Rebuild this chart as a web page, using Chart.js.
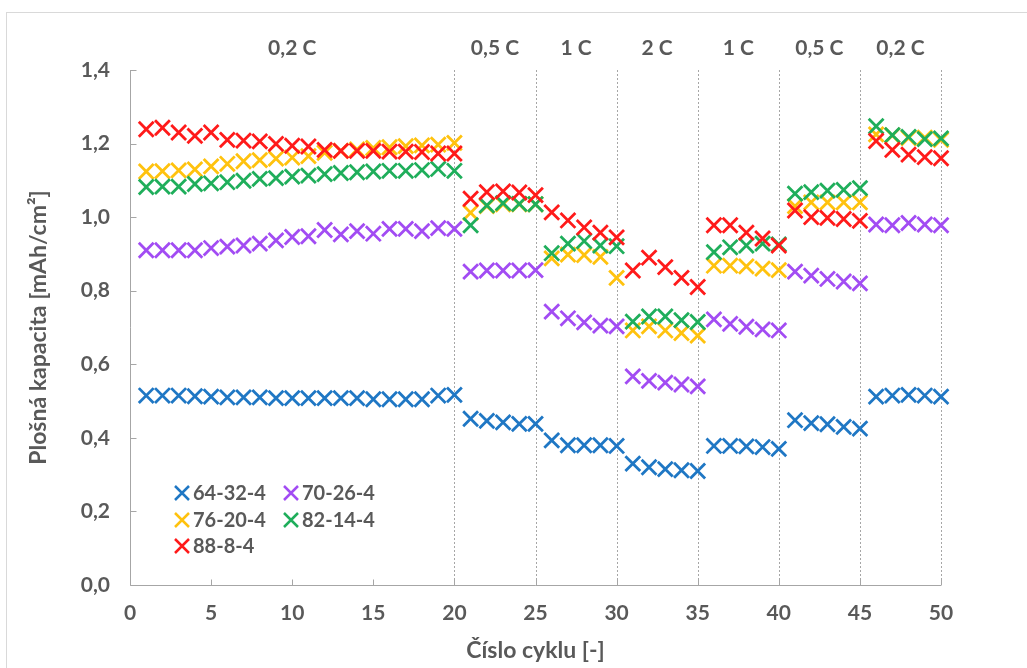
<!DOCTYPE html>
<html><head><meta charset="utf-8">
<script src="https://cdn.jsdelivr.net/npm/chart.js@4.4.0/dist/chart.umd.min.js"></script>
<style>
html,body{margin:0;padding:0;background:#fff;}
#wrap{position:relative;width:1027px;height:668px;overflow:hidden;background:#fff;}
#frame{position:absolute;left:6px;top:12px;width:1030px;height:680px;border:1px solid #d9d9d9;box-sizing:border-box;}
#c{position:absolute;left:0;top:0;}
</style></head>
<body><div id="wrap"><div id="frame"></div><canvas id="c" width="1027" height="668"></canvas></div>
<script>
// ---- data ----
const cycles = [1,2,3,4,5,6,7,8,9,10,11,12,13,14,15,16,17,18,19,20,21,22,23,24,25,26,27,28,29,30,31,32,33,34,35,36,37,38,39,40,41,42,43,44,45,46,47,48,49,50];
const seriesNames = ['64-32-4','70-26-4','76-20-4','82-14-4','88-8-4'];
const s64 = [0.515,0.515,0.515,0.513,0.512,0.510,0.510,0.510,0.508,0.508,0.508,0.508,0.508,0.508,0.505,0.505,0.505,0.505,0.515,0.517,
             0.452,0.446,0.442,0.438,0.438, 0.393,0.380,0.380,0.380,0.378, 0.330,0.320,0.315,0.312,0.310,
             0.378,0.378,0.377,0.375,0.370, 0.448,0.440,0.437,0.430,0.425, 0.512,0.515,0.517,0.515,0.512];
const s70 = [0.910,0.910,0.910,0.910,0.916,0.920,0.923,0.928,0.937,0.946,0.948,0.965,0.953,0.962,0.955,0.968,0.968,0.962,0.970,0.968,
             0.852,0.855,0.855,0.855,0.856, 0.743,0.725,0.714,0.705,0.703, 0.567,0.555,0.550,0.545,0.540,
             0.722,0.710,0.702,0.695,0.692, 0.852,0.841,0.832,0.825,0.820, 0.980,0.978,0.984,0.980,0.978];
const s76 = [1.124,1.125,1.127,1.130,1.138,1.145,1.152,1.155,1.159,1.162,1.166,1.175,1.180,1.184,1.188,1.190,1.193,1.195,1.197,1.202,
             1.012,1.030,1.035,1.035,1.035, 0.888,0.898,0.897,0.892,0.835, 0.692,0.703,0.692,0.685,0.678,
             0.868,0.868,0.866,0.860,0.856, 1.030,1.040,1.040,1.040,1.040, 1.225,1.222,1.215,1.216,1.210];
const s82 = [1.082,1.083,1.083,1.090,1.092,1.095,1.099,1.104,1.106,1.110,1.113,1.117,1.120,1.122,1.124,1.126,1.126,1.128,1.131,1.126,
             0.978,1.032,1.038,1.036,1.035, 0.902,0.928,0.935,0.923,0.921, 0.716,0.730,0.730,0.720,0.715,
             0.905,0.918,0.923,0.928,0.926, 1.064,1.068,1.072,1.074,1.079, 1.247,1.223,1.218,1.212,1.214];
const s88 = [1.239,1.243,1.230,1.221,1.230,1.210,1.208,1.206,1.199,1.194,1.192,1.183,1.180,1.180,1.180,1.178,1.178,1.177,1.173,1.173,
             1.050,1.068,1.070,1.067,1.060, 1.013,0.991,0.972,0.958,0.945, 0.855,0.890,0.864,0.835,0.810,
             0.978,0.978,0.958,0.942,0.923, 1.018,1.000,0.998,0.995,0.990, 1.207,1.183,1.170,1.163,1.160];
const rateLabels = ['0,2 C','0,5 C','1 C','2 C','1 C','0,5 C','0,2 C'];
const rateStart  = [0,20,25,30,35,40,45];
const rateEnd    = [20,25,30,35,40,45,50];
const yTicks = [0,0.2,0.4,0.6,0.8,1.0,1.2,1.4];
const xTicks = [0,5,10,15,20,25,30,35,40,45,50];

// ---- styles ----
const colors = ['#1f77c4','#a24cf3','#ffc20e','#1fae5b','#ff1a1a'];
const TXT = '#595959';
const FONT = 'Lato, "Open Sans", sans-serif';
const allSeries = [s64,s70,s76,s82,s88];

const datasets = allSeries.map((s,i)=>({
  label: seriesNames[i],
  data: cycles.map((c,j)=>({x:c,y:s[j]})),
  showLine:false,
  pointStyle:'crossRot',
  pointRadius:10.5,
  pointHoverRadius:10.5,
  borderWidth:2.8,
  pointBorderWidth:2.8,
  borderColor:colors[i],
  backgroundColor:colors[i],
  order: 5-i,
  clip:false
}));

const decor = {
  id:'decor',
  beforeDatasetsDraw(chart){
    const {ctx, chartArea:a, scales:{x,y}} = chart;
    ctx.save();
    ctx.strokeStyle='#a6a6a6'; ctx.lineWidth=1; ctx.setLineDash([2,2]);
    rateEnd.forEach(v=>{
      const px=Math.round(x.getPixelForValue(v))+0.5;
      ctx.beginPath(); ctx.moveTo(px,a.top); ctx.lineTo(px,a.bottom); ctx.stroke();
    });
    ctx.setLineDash([]);
    const lx=Math.round(a.left)+0.5, by=Math.round(a.bottom)+0.5;
    ctx.beginPath(); ctx.moveTo(lx,a.top); ctx.lineTo(lx,by); ctx.lineTo(a.right,by); ctx.stroke();
    yTicks.forEach(v=>{
      const py=Math.round(y.getPixelForValue(v))+0.5;
      ctx.beginPath(); ctx.moveTo(lx,py); ctx.lineTo(lx+6,py); ctx.stroke();
    });
    xTicks.forEach(v=>{
      const px=Math.round(x.getPixelForValue(v))+0.5;
      ctx.beginPath(); ctx.moveTo(px,by); ctx.lineTo(px,by-6); ctx.stroke();
    });
    ctx.fillStyle=TXT; ctx.font='bold 21px '+FONT; ctx.textAlign='center'; ctx.textBaseline='middle';
    rateLabels.forEach((t,i)=>{
      const px=x.getPixelForValue((rateStart[i]+rateEnd[i])/2);
      ctx.fillText(t,px,a.top-22);
    });
    ctx.restore();
  },
  afterDatasetsDraw(chart){
    const {ctx, chartArea:a} = chart;
    ctx.save();
    const cols=[a.left+52, a.left+161];
    const rows=[a.top+423, a.top+450, a.top+476];
    ctx.font='bold 20px '+FONT; ctx.textAlign='left'; ctx.textBaseline='middle';
    seriesNames.forEach((n,i)=>{
      const cx=cols[i%2], cy=rows[Math.floor(i/2)];
      const r=7;
      ctx.strokeStyle=colors[i]; ctx.lineWidth=2.5;
      ctx.beginPath(); ctx.moveTo(cx-r,cy-r); ctx.lineTo(cx+r,cy+r); ctx.moveTo(cx+r,cy-r); ctx.lineTo(cx-r,cy+r); ctx.stroke();
      ctx.fillStyle=TXT; ctx.fillText(n,cx+11,cy+1);
    });
    ctx.restore();
  }
};

new Chart(document.getElementById('c'),{
  type:'scatter',
  data:{datasets},
  options:{
    responsive:false,
    animation:false,
    events:[],
    layout:{padding:{top:70,right:86,left:0,bottom:0}},
    plugins:{legend:{display:false},tooltip:{enabled:false}},
    scales:{
      x:{
        type:'linear',min:0,max:50,
        afterBuildTicks(s){ s.ticks = xTicks.map(v=>({value:v})); },
        afterFit(s){ s.height = 668-585; },
        grid:{display:false,drawTicks:false},
        border:{display:false},
        ticks:{color:TXT,font:{family:FONT,size:21,weight:'bold'},padding:16,maxRotation:0},
        title:{display:true,text:'Číslo cyklu [-]',color:TXT,font:{family:FONT,size:23,weight:'bold'},padding:{top:0,bottom:4}}
      },
      y:{
        type:'linear',min:0,max:1.4,
        afterBuildTicks(s){ s.ticks = yTicks.map(v=>({value:v})); },
        afterFit(s){ s.width = 130; },
        grid:{display:false,drawTicks:false},
        border:{display:false},
        ticks:{color:TXT,font:{family:FONT,size:21,weight:'bold'},padding:20,
               callback:v=>v.toFixed(1).replace('.',',')},
        title:{display:true,text:'Plošná kapacita [mAh/cm²]',color:TXT,font:{family:FONT,size:23,weight:'bold'},padding:{top:25,bottom:0}}
      }
    }
  },
  plugins:[decor]
});
</script>
</body></html>
